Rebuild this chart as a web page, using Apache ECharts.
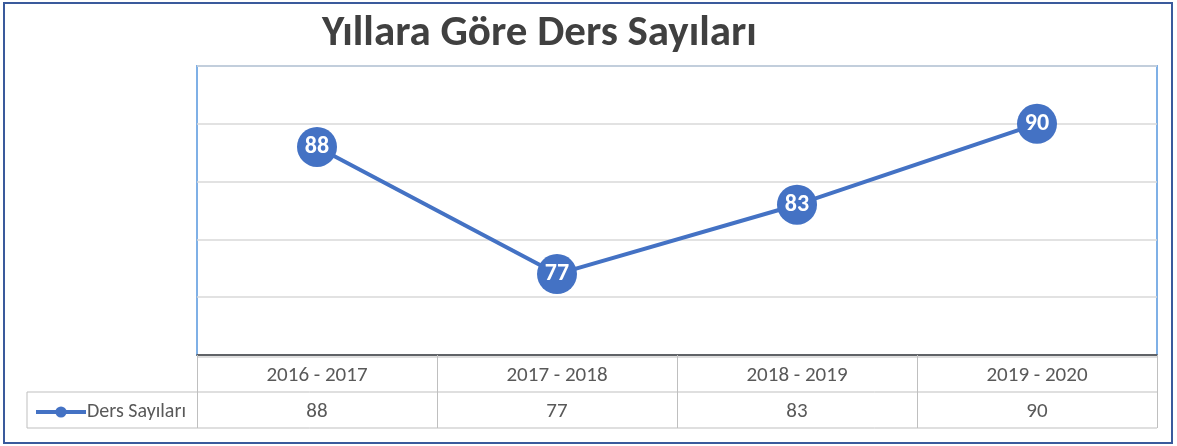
<!DOCTYPE html>
<html>
<head>
<meta charset="utf-8">
<script src="https://cdn.jsdelivr.net/npm/echarts@6/dist/echarts.min.js"></script>
<style>
html, body { margin: 0; padding: 0; background: #fff; }
#chart { width: 1177px; height: 446px; }
</style>
</head>
<body>
<div id="chart"></div>
<script>
// veriler
var categories = ['2016 - 2017', '2017 - 2018', '2018 - 2019', '2019 - 2020'];
var dersSayilari = [88, 77, 83, 90];
var seriesName = 'Ders Sayıları';

var FONT = 'Carlito, "Liberation Sans", sans-serif';
var chart = echarts.init(document.getElementById('chart'));

var gridLeft = 197, gridRight = 1157, gridTop = 66, gridBottom = 355;
var rowMid = 392, rowEnd = 428, legendLeft = 27;

chart.setOption({
	backgroundColor: '#fff',
	animation: false,
	title: {
		text: 'Yıllara Göre Ders Sayıları',
		left: 317,
		top: 8,
		textStyle: { fontFamily: FONT, fontWeight: 'bold', fontSize: 43, color: '#404040' }
	},
	legend: {
		data: [seriesName],
		left: legendLeft + 2,
		top: rowMid + 5,
		itemWidth: 50,
		itemHeight: 14,
		itemGap: 4,
		lineStyle: { width: 4 },
		textStyle: { fontFamily: FONT, fontSize: 20, color: '#595959', padding: [0, 0, 0, -4] }
	},
	grid: { left: gridLeft, right: 1177 - gridRight, top: gridTop, bottom: 446 - gridBottom },
	xAxis: [{
		type: 'category',
		data: categories,
		boundaryGap: true,
		axisLine: { lineStyle: { color: '#404040', width: 1.5 } },
		axisTick: { show: true, length: rowEnd - gridBottom, lineStyle: { color: '#bfbfbf', width: 1 } },
		axisLabel: { margin: 10, fontFamily: FONT, fontSize: 21, color: '#595959' }
	}, {
		type: 'category',
		position: 'bottom',
		data: dersSayilari.map(String),
		offset: rowMid - gridBottom,
		axisLine: { show: false },
		axisTick: { show: false },
		axisLabel: { margin: 9, fontFamily: FONT, fontSize: 21, color: '#595959' }
	}],
	yAxis: {
		type: 'value',
		min: 70,
		max: 95,
		interval: 5,
		axisLabel: { show: false },
		axisLine: { show: false },
		axisTick: { show: false },
		splitLine: { lineStyle: { color: '#d9d9d9', width: 1.5 } }
	},
	series: [{
		name: seriesName,
		type: 'line',
		data: dersSayilari,
		symbol: 'circle',
		symbolSize: 40,
		lineStyle: { color: '#4472c4', width: 4 },
		itemStyle: { color: '#4472c4' },
		label: {
			show: true,
			position: 'inside',
			fontFamily: FONT,
			fontWeight: 'bold',
			fontSize: 24,
			color: '#fff'
		}
	}],
	graphic: [
		// dış çerçeve
		{ type: 'rect', shape: { x: 4, y: 3, width: 1168, height: 440 }, style: { fill: 'none', stroke: '#3a5a9c', lineWidth: 2 }, silent: true },
		// çizim alanı kenarlığı
		{ type: 'rect', shape: { x: gridLeft, y: gridTop, width: gridRight - gridLeft, height: gridBottom - gridTop }, style: { fill: 'none', stroke: '#7fb0e6', lineWidth: 2 }, silent: true, z: 0 },
		// tablo çizgileri
		{ type: 'line', shape: { x1: gridLeft, y1: gridBottom + 2, x2: gridRight, y2: gridBottom + 2 }, style: { stroke: '#bfbfbf', lineWidth: 1 }, silent: true },
		{ type: 'line', shape: { x1: legendLeft, y1: rowMid, x2: gridRight, y2: rowMid }, style: { stroke: '#bfbfbf', lineWidth: 1 }, silent: true },
		{ type: 'line', shape: { x1: legendLeft, y1: rowEnd, x2: gridRight, y2: rowEnd }, style: { stroke: '#bfbfbf', lineWidth: 1 }, silent: true },
		{ type: 'line', shape: { x1: legendLeft, y1: rowMid, x2: legendLeft, y2: rowEnd }, style: { stroke: '#bfbfbf', lineWidth: 1 }, silent: true }
	]
});
</script>
</body>
</html>
